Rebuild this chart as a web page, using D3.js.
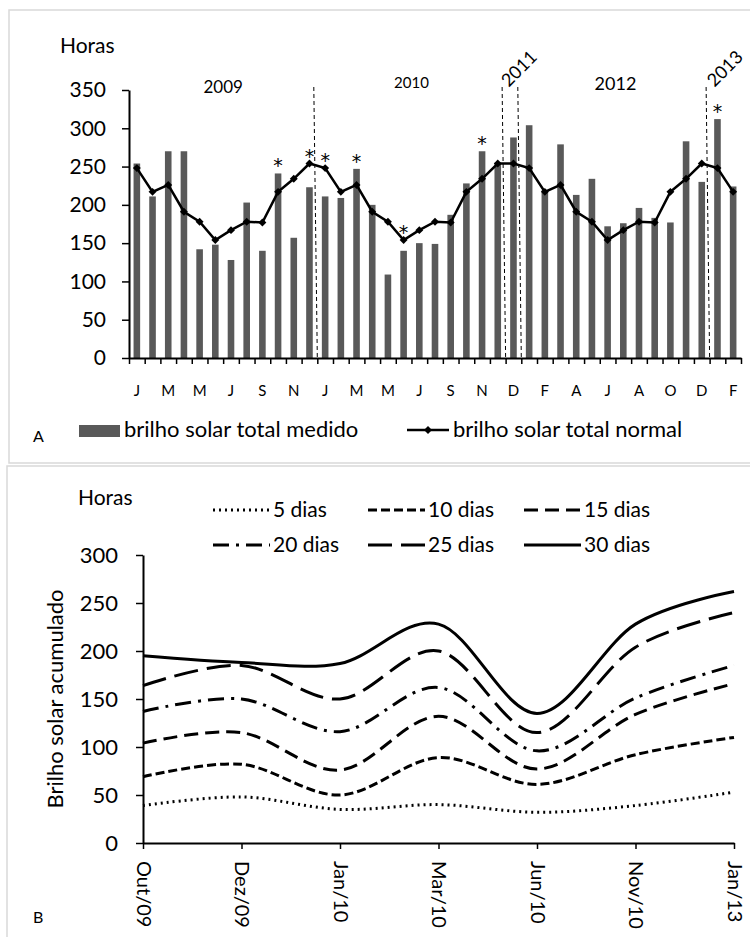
<!DOCTYPE html>
<html>
<head>
<meta charset="utf-8">
<script src="https://cdn.jsdelivr.net/npm/d3@7"></script>
<style>
body { margin: 0; background: #fff; }
svg { display: block; font-family: Lato, "Open Sans", sans-serif; }
</style>
</head>
<body>
<svg id="chart" width="750" height="937"></svg>
<script>
// ---- panel A data ----
const months = ['J','F','M','A','M','J','J','A','S','O','N','D',
                'J','F','M','A','M','J','J','A','S','O','N','D',
                'D',
                'J','F','M','A','M','J','J','A','S','O','N','D',
                'J','F'];
const measured = [254,211,270,270,142,148,128,203,140,241,157,223,
                  211,209,247,200,109,140,150,149,187,228,270,255,
                  288,
                  304,219,279,213,234,172,176,196,183,177,283,230,
                  312,224];
const normal = [248,217,226,191,178,154,167,178,177,217,234,254,
                248,217,226,191,178,154,167,178,177,217,234,254,
                254,
                248,217,226,191,178,154,167,178,177,217,234,254,
                248,217];
const starred = [9,11,12,14,17,22,37];
const years = ['2009','2010','2011','2012','2013'];
const yearStart = [0,12,24,25,37];
const yearEnd = [12,24,25,37,39];
const yTicksA = [0,50,100,150,200,250,300,350];

// ---- panel B data ----
const periods = ['Out/09','Dez/09','Jan/10','Mar/10','Jun/10','Nov/10','Jan/13'];
const seriesNames = ['5 dias','10 dias','15 dias','20 dias','25 dias','30 dias'];
const d5  = [39, 48, 35, 40, 32, 39, 53];
const d10 = [69, 82, 50, 89, 61, 92, 110];
const d15 = [104, 115, 76, 132, 77, 134, 166];
const d20 = [137, 150, 116, 162, 96, 151, 185];
const d25 = [164, 185, 150, 200, 115, 204, 240];
const d30 = [195, 188, 187, 228, 135, 228, 262];
const yTicksB = [0,50,100,150,200,250,300];

const svg = d3.select('#chart');

// panel frames
svg.append('rect').attr('x', 9).attr('y', 10).attr('width', 760).attr('height', 453)
   .attr('fill', 'none').attr('stroke', '#d9d9d9').attr('stroke-width', 1.5);
svg.append('rect').attr('x', 7).attr('y', 466).attr('width', 760).attr('height', 490)
   .attr('fill', 'none').attr('stroke', '#d9d9d9').attr('stroke-width', 1.5);

// ================= A =================
const idx = d3.range(measured.length);
const xLin = d3.scaleLinear().domain([0, measured.length]).range([129, 741]);
const xBand = d3.scaleBand().domain(idx).range([129, 741])
      .paddingInner(0.58).paddingOuter(0.29);
const yA = d3.scaleLinear().domain([0, 350]).range([358, 90]);
const cx = i => xBand(i) + xBand.bandwidth() / 2;

const gA = svg.append('g');

gA.selectAll('rect.bar')
  .data(measured)
  .enter().append('rect')
  .attr('class', 'bar')
  .attr('x', (d, i) => xBand(i))
  .attr('width', xBand.bandwidth())
  .attr('y', d => yA(d))
  .attr('height', d => yA(0) - yA(d))
  .attr('fill', '#595959');

// year dividers (slightly slanted, as drawn by hand in the original)
gA.selectAll('line.div')
  .data(yearStart.slice(1))
  .enter().append('line')
  .attr('x1', d => xLin(d) - 3.5).attr('y1', 87)
  .attr('x2', d => xLin(d)).attr('y2', yA(0))
  .attr('stroke', '#000').attr('stroke-width', 1)
  .style('stroke-dasharray', '4,3');

const line = d3.line().x((d, i) => cx(i)).y(d => yA(d));
gA.append('path')
  .attr('d', line(normal))
  .attr('fill', 'none').attr('stroke', '#000').attr('stroke-width', 2.5);

gA.selectAll('path.mk')
  .data(normal)
  .enter().append('path')
  .attr('class', 'mk')
  .attr('d', d3.symbol().type(d3.symbolDiamond2).size(40))
  .attr('transform', (d, i) => `translate(${cx(i)},${yA(d)})`)
  .attr('fill', '#000');

gA.selectAll('text.star')
  .data(starred)
  .enter().append('text')
  .attr('x', i => cx(i))
  .attr('y', i => yA(Math.max(measured[i], normal[i])) - 1)
  .attr('text-anchor', 'middle')
  .attr('font-family', 'DejaVu Sans')
  .attr('font-size', 19)
  .attr('fill', '#000')
  .text('*');

// axes
const axY = gA.append('g')
  .attr('transform', `translate(${xLin(0)},0)`)
  .call(d3.axisLeft(yA).tickValues(yTicksA).tickSize(7).tickPadding(16).tickSizeOuter(0));
const axX = gA.append('g')
  .attr('transform', `translate(0,${yA(0)})`)
  .call(d3.axisBottom(xLin).tickValues(d3.range(measured.length + 1))
        .tickFormat('').tickSize(6).tickSizeOuter(0));
[axY, axX].forEach(a => {
  a.select('.domain').attr('stroke-width', 2);
  a.selectAll('.tick line').attr('stroke-width', 1.5);
});
axY.selectAll('.tick text').attr('font-size', 21).attr('font-family', 'Lato').attr('fill', '#000');

gA.selectAll('text.month')
  .data(idx.filter(i => i % 2 === 0))
  .enter().append('text')
  .attr('x', i => cx(i))
  .attr('y', 396)
  .attr('text-anchor', 'middle')
  .attr('font-size', 15)
  .text(i => months[i]);

gA.append('text').attr('x', 60).attr('y', 53).attr('font-size', 21).text('Horas');

// year labels
const yearSize = [17, 15, 18, 18, 18];
const yearY = [93, 88, 0, 90, 0];
const yearDx = [0, 0, 10, 0, 4];
years.forEach((y, k) => {
  const mid = xLin((yearStart[k] + yearEnd[k]) / 2);
  const t = gA.append('text').attr('font-size', yearSize[k]).attr('text-anchor', 'middle').text(y);
  if (y === '2011' || y === '2013') {
    t.attr('transform', `translate(${mid + yearDx[k]},${73}) rotate(-45)`);
  } else {
    t.attr('x', mid).attr('y', yearY[k]);
  }
});

// legend A
gA.append('rect').attr('x', 79).attr('y', 425).attr('width', 41).attr('height', 12).attr('fill', '#595959');
gA.append('text').attr('x', 124).attr('y', 437).attr('font-size', 22).text('brilho solar total medido');
gA.append('line').attr('x1', 407).attr('x2', 449).attr('y1', 430).attr('y2', 430)
  .attr('stroke', '#000').attr('stroke-width', 2.5);
gA.append('path').attr('d', d3.symbol().type(d3.symbolDiamond2).size(40))
  .attr('transform', 'translate(428,430)');
gA.append('text').attr('x', 453).attr('y', 437).attr('font-size', 22).text('brilho solar total normal');
gA.append('text').attr('x', 33).attr('y', 442).attr('font-size', 16).text('A');

// ================= B =================
const series = [d5, d10, d15, d20, d25, d30];
const dashes = ['2,4', '9,4', '14,7', '16,7,3,7', '24,9', null];
const xB = d3.scalePoint().domain(periods).range([143, 734]);
const yB = d3.scaleLinear().domain([0, 300]).range([843, 555]);
const gB = svg.append('g');

const lineB = d3.line()
  .x((d, i) => xB(periods[i]))
  .y(d => yB(d))
  .curve(d3.curveCardinal.tension(0));

gB.selectAll('path.s')
  .data(series)
  .enter().append('path')
  .attr('class', 's')
  .attr('d', d => lineB(d))
  .attr('fill', 'none')
  .attr('stroke', '#000')
  .attr('stroke-width', 3)
  .style('stroke-dasharray', (d, k) => dashes[k]);

const axYB = gB.append('g')
  .attr('transform', `translate(${xB(periods[0])},0)`)
  .call(d3.axisLeft(yB).tickValues(yTicksB).tickSize(7).tickPadding(18).tickSizeOuter(0));
const axXB = gB.append('g')
  .attr('transform', `translate(0,${yB(0)})`)
  .call(d3.axisBottom(xB).tickSize(6).tickSizeOuter(0));
[axYB, axXB].forEach(a => {
  a.select('.domain').attr('stroke-width', 2);
  a.selectAll('.tick line').attr('stroke-width', 1.5);
  a.selectAll('.tick text').attr('font-size', 22).attr('font-family', 'Lato').attr('fill', '#000');
});
axXB.selectAll('.tick text')
  .attr('font-size', 20)
  .attr('transform', 'rotate(90)')
  .attr('x', 18).attr('y', 0).attr('dy', '0.35em')
  .attr('text-anchor', 'start');

gB.append('text').attr('x', 78).attr('y', 505).attr('font-size', 21).text('Horas');
gB.append('text')
  .attr('transform', `translate(63,${(yB(0) + yB(300)) / 2}) rotate(-90)`)
  .attr('text-anchor', 'middle').attr('font-size', 22)
  .text('Brilho solar acumulado');
gB.append('text').attr('x', 33).attr('y', 923).attr('font-size', 16).text('B');

// legend B
const colX = [213, 368, 524];
const rowY = [510, 545];
seriesNames.forEach((name, k) => {
  const lx = colX[k % 3], ly = rowY[Math.floor(k / 3)];
  gB.append('line').attr('x1', lx).attr('x2', lx + 57).attr('y1', ly).attr('y2', ly)
    .attr('stroke', '#000').attr('stroke-width', 3)
    .style('stroke-dasharray', dashes[k]);
  gB.append('text').attr('x', lx + 60).attr('y', ly + 7).attr('font-size', 21).text(name);
});
</script>
</body>
</html>
